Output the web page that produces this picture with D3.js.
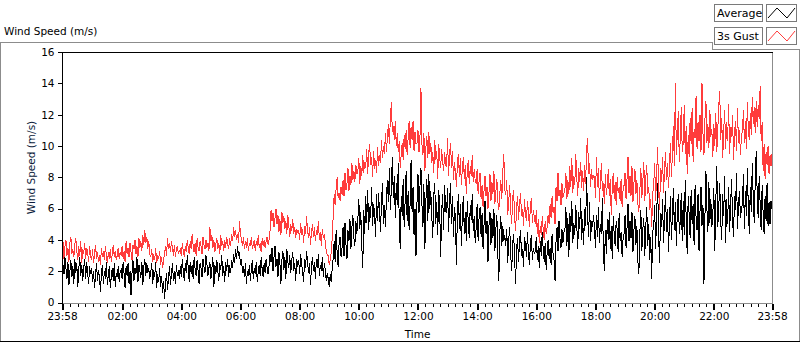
<!DOCTYPE html>
<html>
<head>
<meta charset="utf-8">
<script src="https://cdnjs.cloudflare.com/ajax/libs/d3/7.8.5/d3.min.js"></script>
<style>
  html, body { margin: 0; padding: 0; background: #fff; overflow: hidden; }
  svg text { font-family: "DejaVu Sans", Tahoma, sans-serif; font-size: 10.5px; fill: #000; }
</style>
</head>
<body>
<div id="chart"></div>
<script>
// samples spread evenly over the day, 23:58 -> 23:58 (about one every 2 minutes)
var averageSpeed = [
  1.3, 2.4, 1.8, 2.9, 2.2, 1.5, 2.6, 1.1, 2.0, 2.7, 1.6, 2.3, 1.2, 2.8, 1.9, 2.5, 1.0, 2.1, 2.9, 1.7, 2.4, 1.4, 2.2, 2.8, 1.5, 2.6, 1.9, 1.2, 2.3, 1.8,
  2.2, 1.3, 2.0, 0.9, 1.8, 2.5, 1.4, 2.1, 1.6, 0.7, 1.9, 2.4, 1.2, 2.0, 1.5, 2.6, 1.1, 1.8, 2.3, 0.9, 1.7, 2.2, 1.4, 2.5, 1.0, 1.9, 1.6, 2.3, 1.3, 2.0,
  2.1, 1.5, 2.6, 1.8, 0.9, 2.3, 1.7, 2.5, 1.2, 2.0, 0.5, 1.9, 2.7, 1.4, 2.2, 1.8, 2.9, 1.3, 2.4, 2.0, 1.6, 2.6, 1.1, 2.3, 2.8, 1.7, 2.5, 1.9, 2.2, 1.5,
  1.9, 2.5, 1.2, 2.1, 1.6, 2.6, 0.9, 1.8, 1.3, 2.2, 1.0, 1.7, 0.6, 1.4, 0.2, 1.2, 1.9, 0.8, 1.5, 2.3, 1.1, 1.8, 2.5, 1.4, 2.0, 1.2, 2.4, 1.7, 2.1, 1.5,
  2.3, 1.6, 2.8, 2.0, 1.4, 2.5, 1.9, 3.0, 2.2, 1.3, 2.6, 1.8, 2.4, 1.5, 2.9, 2.1, 1.7, 2.7, 2.0, 1.2, 2.5, 2.2, 1.6, 2.8, 2.3, 1.9, 3.0, 2.4, 1.7, 2.2,
  2.6, 1.5, 2.2, 2.9, 1.0, 2.4, 1.8, 2.7, 2.0, 1.4, 2.5, 2.1, 3.0, 1.7, 2.3, 1.3, 2.6, 2.0, 2.8, 1.6, 2.4, 1.9, 2.7, 2.2, 3.1, 2.5, 3.4, 2.8, 3.6, 3.0,
  3.2, 2.4, 2.8, 1.9, 2.3, 1.6, 2.5, 1.2, 2.0, 1.7, 2.4, 1.4, 2.1, 2.7, 1.5, 2.2, 1.8, 2.6, 1.3, 2.0, 2.4, 1.7, 2.9, 2.1, 1.6, 2.5, 1.9, 2.8, 2.2, 1.8,
  2.4, 3.1, 2.6, 3.5, 2.0, 2.9, 3.6, 2.3, 2.8, 1.6, 3.2, 2.5, 1.2, 2.7, 3.3, 2.1, 2.9, 1.5, 3.4, 2.6, 2.2, 3.0, 1.9, 2.7, 3.2, 2.0, 2.5, 1.4, 2.8, 2.3,
  2.7, 1.8, 3.1, 2.4, 2.0, 1.3, 2.8, 2.2, 3.3, 2.6, 1.9, 2.5, 1.1, 2.3, 2.9, 2.0, 2.6, 1.5, 2.8, 2.2, 3.1, 1.7, 2.4, 2.0, 2.9, 1.6, 2.5, 2.1, 1.4, 1.9,
  1.5, 1.0, 1.8, 1.3, 2.2, 2.8, 3.9, 2.6, 4.6, 3.2, 2.3, 3.8, 4.2, 2.9, 3.5, 4.8, 3.0, 5.1, 3.7, 2.8, 4.6, 3.9, 5.3, 3.4, 4.8, 5.6, 4.1, 3.6, 5.2, 4.4,
  5.3, 6.6, 4.7, 5.8, 3.6, 2.2, 5.9, 4.4, 6.8, 5.1, 7.2, 4.6, 6.1, 5.4, 7.4, 4.9, 6.3, 5.6, 4.2, 6.9, 5.2, 7.0, 5.8, 4.5, 6.5, 7.6, 5.0, 6.2, 4.8, 6.7,
  7.8, 6.4, 8.6, 5.9, 7.3, 9.3, 6.7, 8.1, 5.4, 7.6, 6.2, 8.9, 5.1, 3.4, 6.8, 5.5, 7.9, 4.8, 6.6, 8.4, 5.2, 7.1, 4.6, 6.3, 9.1, 5.8, 7.4, 4.3, 6.0, 3.0,
  6.4, 8.2, 5.7, 7.4, 8.6, 6.3, 4.8, 7.6, 3.4, 6.5, 7.9, 5.2, 8.2, 6.0, 7.1, 5.5, 4.1, 6.9, 7.6, 5.0, 6.4, 4.3, 7.2, 6.1, 2.9, 5.8, 6.9, 4.6, 7.5, 5.9,
  5.7, 7.3, 4.5, 6.4, 7.6, 5.0, 6.8, 4.2, 6.1, 5.4, 2.4, 5.9, 6.9, 4.7, 6.3, 3.6, 5.6, 6.8, 4.4, 5.8, 3.9, 6.5, 5.1, 4.1, 6.2, 5.3, 6.9, 4.6, 5.5, 3.8,
  4.8, 6.3, 3.9, 5.5, 6.1, 4.2, 5.7, 3.4, 5.0, 6.5, 4.4, 5.2, 2.6, 4.9, 5.8, 3.7, 5.4, 4.1, 6.0, 3.3, 4.7, 5.6, 3.0, 1.4, 4.5, 5.5, 3.6, 4.9, 3.9, 4.3,
  3.6, 4.7, 2.5, 4.0, 4.8, 3.1, 2.0, 3.7, 4.4, 2.8, 1.2, 3.5, 4.1, 2.6, 3.9, 4.6, 3.0, 3.4, 2.3, 4.2, 3.7, 2.9, 4.5, 3.2, 2.4, 3.8, 4.3, 2.7, 3.5, 3.1,
  3.3, 4.2, 2.7, 3.6, 2.2, 3.9, 3.0, 4.5, 3.4, 2.6, 3.8, 2.1, 3.2, 4.0, 2.8, 3.5, 2.4, 4.4, 3.1, 2.7, 1.4, 3.9, 4.8, 3.3, 5.2, 4.1, 3.5, 4.7, 3.8, 4.5,
  4.6, 6.1, 3.6, 5.4, 2.9, 5.7, 4.5, 6.5, 3.8, 5.1, 4.3, 6.2, 5.0, 3.4, 5.8, 4.7, 6.7, 4.0, 5.3, 3.7, 6.0, 4.9, 8.0, 5.5, 4.2, 6.4, 3.9, 5.2, 4.8, 5.6,
  4.7, 3.5, 5.6, 4.2, 6.1, 3.8, 5.0, 4.4, 6.7, 3.3, 2.0, 4.6, 3.1, 5.3, 4.0, 5.8, 3.4, 4.9, 2.8, 5.5, 4.3, 3.6, 5.2, 4.7, 3.2, 5.7, 3.9, 4.5, 2.9, 4.1,
  4.4, 5.6, 3.5, 4.8, 6.3, 3.9, 5.2, 4.1, 5.8, 3.2, 4.6, 5.5, 3.7, 4.9, 2.6, 1.8, 4.5, 5.9, 3.3, 4.7, 5.4, 3.0, 4.8, 6.1, 3.6, 5.0, 2.7, 4.2, 1.5, 4.6,
  4.7, 6.2, 3.4, 5.5, 7.6, 4.3, 2.5, 5.7, 4.8, 6.6, 3.8, 5.3, 7.1, 4.5, 6.0, 3.2, 5.1, 6.8, 4.0, 5.6, 7.3, 4.6, 6.4, 3.6, 5.9, 6.9, 4.4, 5.2, 7.0, 3.9,
  6.5, 4.3, 7.8, 5.3, 3.1, 6.8, 5.6, 4.1, 7.2, 5.0, 6.3, 3.7, 7.5, 5.4, 4.6, 6.9, 3.3, 5.8, 7.4, 4.9, 6.2, 1.2, 5.5, 8.4, 6.0, 4.5, 7.7, 5.1, 6.6, 4.8,
  5.7, 7.3, 3.3, 6.4, 8.7, 4.8, 6.1, 7.6, 5.2, 4.0, 6.9, 5.5, 8.1, 3.8, 6.6, 5.0, 7.4, 4.5, 6.2, 7.9, 5.3, 4.2, 6.8, 5.9, 8.3, 4.7, 6.3, 7.1, 5.4, 6.0,
  6.3, 8.2, 4.7, 7.1, 5.5, 8.6, 6.0, 4.4, 7.4, 5.8, 8.9, 6.6, 5.1, 7.8, 9.7, 6.9, 5.4, 8.1, 6.3, 4.6, 7.5, 5.7, 4.4, 6.8, 5.2, 7.6, 4.9, 6.4, 5.0, 6.5, 6.0
];

var gustSpeed = [
  3.2, 3.9, 2.8, 3.6, 4.0, 3.0, 3.5, 2.6, 3.8, 4.2, 3.1, 3.4, 2.9, 3.7, 4.1, 3.3, 2.7, 3.6, 3.0, 3.9, 2.5, 3.4, 3.1, 3.8, 2.8, 3.5, 3.2, 2.6, 3.6, 3.0,
  2.7, 3.4, 2.5, 3.1, 3.7, 2.8, 3.2, 2.6, 3.0, 2.4, 3.5, 2.9, 3.3, 2.7, 3.6, 3.0, 2.5, 3.2, 2.8, 3.4, 2.6, 3.1, 3.7, 2.9, 3.3, 2.7, 3.0, 3.5, 2.8, 3.2,
  3.0, 3.6, 2.8, 3.3, 2.6, 3.9, 3.1, 3.5, 2.9, 3.8, 3.2, 2.7, 3.7, 3.4, 4.0, 3.1, 3.6, 2.9, 4.1, 3.5, 3.9, 3.3, 4.3, 3.7, 4.6, 3.8, 4.2, 3.4, 3.9, 3.1,
  2.9, 3.4, 2.6, 3.1, 2.7, 3.5, 2.5, 3.0, 2.8, 3.3, 2.4, 2.9, 2.2, 2.7, 3.1, 3.6, 3.0, 4.1, 3.4, 3.8, 3.2, 3.9, 3.5, 3.0, 3.7, 2.9, 3.4, 3.6, 3.1, 3.3,
  3.4, 3.0, 3.8, 3.3, 2.9, 3.6, 3.2, 4.0, 3.5, 3.1, 3.9, 3.4, 4.4, 3.6, 3.2, 3.8, 3.0, 4.1, 3.5, 3.3, 3.9, 3.6, 3.1, 4.2, 3.7, 3.4, 4.0, 3.5, 3.8, 3.3,
  4.8, 3.9, 4.3, 3.5, 4.0, 3.2, 3.7, 4.1, 3.4, 3.8, 3.1, 4.3, 3.6, 3.9, 3.3, 4.0, 3.5, 4.2, 3.7, 3.4, 4.1, 3.6, 4.4, 3.9, 4.8, 4.2, 4.6, 4.0, 4.4, 3.8,
  5.2, 4.4, 4.0, 3.6, 4.2, 3.4, 3.9, 3.5, 4.1, 3.3, 3.8, 3.6, 4.2, 3.4, 3.7, 4.0, 3.3, 3.9, 3.6, 4.3, 3.5, 3.8, 3.2, 4.1, 3.6, 4.0, 3.5, 3.9, 4.2, 3.7,
  4.0, 4.6, 5.9, 5.2, 5.7, 4.8, 5.4, 6.0, 5.0, 5.6, 4.5, 5.3, 4.3, 5.8, 5.1, 5.5, 4.7, 5.2, 4.4, 5.6, 4.9, 4.2, 5.0, 4.6, 5.3, 4.4, 4.8, 4.1, 4.7, 4.5,
  4.6, 4.0, 5.1, 4.3, 4.7, 3.8, 4.9, 4.4, 5.5, 4.6, 4.1, 4.8, 3.7, 4.5, 5.0, 4.2, 4.8, 3.9, 4.6, 4.3, 5.2, 4.0, 4.5, 3.6, 4.7, 4.1, 4.4, 3.8, 3.3, 3.0,
  3.0, 2.4, 2.7, 3.2, 4.1, 5.5, 6.9, 6.2, 7.3, 8.0, 6.7, 7.0, 6.5, 7.4, 6.9, 7.8, 6.8, 8.3, 7.2, 7.6, 8.6, 7.1, 8.1, 7.5, 8.9, 7.8, 8.4, 7.7, 8.8, 8.2,
  8.4, 9.2, 7.6, 8.7, 8.1, 9.4, 8.3, 9.0, 8.6, 9.8, 8.2, 9.5, 10.1, 8.8, 9.3, 8.0, 9.7, 8.5, 9.1, 8.3, 9.9, 8.7, 9.4, 8.9, 10.4, 9.2, 10.0, 9.5, 10.8, 9.6,
  10.6, 11.4, 10.1, 11.8, 12.8, 10.9, 11.3, 10.4, 11.6, 10.0, 10.8, 9.6, 10.3, 8.6, 9.5, 10.2, 9.1, 10.7, 9.8, 11.0, 9.4, 10.5, 11.6, 9.9, 11.2, 10.4, 11.6, 9.7, 10.9, 10.1,
  10.2, 11.0, 9.6, 10.5, 13.7, 10.1, 9.4, 10.8, 8.4, 9.9, 10.6, 9.2, 10.9, 9.5, 10.2, 8.9, 9.6, 8.3, 10.4, 9.1, 9.7, 7.9, 10.1, 9.3, 8.6, 9.8, 9.0, 8.4, 9.6, 8.8,
  8.7, 10.5, 8.1, 9.4, 10.2, 8.6, 9.7, 7.8, 9.0, 8.3, 7.4, 8.9, 9.5, 8.0, 9.2, 7.5, 8.6, 9.3, 7.9, 8.8, 6.9, 8.4, 9.1, 7.6, 8.7, 8.1, 9.4, 7.7, 8.5, 7.8,
  7.6, 8.5, 6.9, 7.8, 8.3, 6.6, 7.5, 6.1, 7.2, 8.1, 6.8, 7.4, 6.0, 7.0, 8.2, 6.5, 7.7, 6.9, 8.4, 6.3, 7.1, 7.9, 6.4, 5.9, 7.0, 7.8, 6.6, 8.3, 9.5, 7.2,
  6.9, 7.8, 5.6, 6.4, 7.5, 5.9, 5.0, 6.7, 7.2, 5.4, 4.6, 6.1, 6.8, 5.3, 6.3, 7.0, 5.5, 6.0, 4.9, 6.6, 5.7, 5.2, 6.5, 5.8, 4.8, 6.2, 6.7, 5.1, 5.9, 5.4,
  5.0, 5.9, 4.4, 5.3, 3.8, 4.9, 4.3, 5.5, 4.6, 4.0, 5.2, 4.4, 4.8, 5.6, 5.0, 6.3, 5.4, 6.8, 5.7, 6.1, 5.0, 7.4, 6.5, 8.3, 6.8, 7.2, 6.2, 7.6, 6.7, 7.0,
  7.2, 8.3, 6.6, 7.8, 6.9, 8.7, 7.4, 9.2, 7.0, 8.1, 7.5, 9.5, 8.0, 6.8, 8.6, 7.7, 9.0, 7.3, 8.4, 7.1, 8.8, 7.6, 9.8, 10.5, 8.2, 8.9, 7.4, 8.5, 7.8, 8.1,
  8.0, 6.7, 9.3, 7.4, 8.6, 6.4, 7.8, 8.9, 7.1, 7.6, 6.3, 8.2, 6.9, 7.5, 8.5, 6.8, 7.9, 5.6, 7.3, 8.3, 6.6, 7.7, 6.2, 8.0, 7.0, 7.4, 6.5, 7.9, 6.1, 7.2,
  7.5, 8.3, 6.6, 7.9, 9.3, 7.0, 8.1, 6.8, 8.7, 6.4, 7.6, 8.5, 6.9, 7.8, 6.3, 5.8, 7.2, 8.6, 6.7, 7.7, 9.0, 6.5, 7.9, 8.8, 6.9, 7.4, 5.9, 6.6, 4.8, 7.0,
  7.4, 8.9, 6.5, 8.2, 9.9, 7.2, 5.9, 8.6, 7.7, 9.3, 7.0, 8.4, 9.6, 7.8, 8.9, 7.3, 8.6, 10.2, 8.0, 9.5, 11.3, 8.7, 14.0, 9.4, 10.8, 12.2, 9.0, 10.5, 12.5, 9.6,
  10.2, 12.6, 9.5, 11.3, 8.2, 10.7, 9.3, 11.8, 10.1, 12.4, 9.0, 11.1, 10.5, 13.2, 9.8, 11.5, 10.3, 12.0, 9.6, 14.0, 10.8, 9.4, 11.7, 12.9, 10.2, 11.4, 9.9, 12.3, 10.6, 11.1,
  9.3, 11.4, 10.0, 12.1, 9.6, 11.0, 12.6, 13.5, 10.4, 11.8, 9.2, 10.9, 12.3, 9.8, 11.5, 10.3, 12.7, 9.5, 11.2, 10.6, 12.0, 9.1, 10.8, 11.6, 9.7, 12.4, 10.2, 11.0, 9.4, 10.7,
  10.9, 12.3, 10.2, 11.6, 9.8, 12.8, 11.0, 10.4, 12.1, 10.7, 13.1, 11.4, 12.5, 10.8, 12.9, 11.2, 12.6, 11.7, 13.8, 10.3, 11.5, 8.4, 10.1, 7.9, 9.6, 8.8, 10.0, 8.2, 9.4, 8.7, 9.5
];

var yTicks = [0, 2, 4, 6, 8, 10, 12, 14, 16];
var xTickMinutes = [0, 122, 242, 362, 482, 602, 722, 842, 962, 1082, 1202, 1322, 1440];
var xTickLabels = ["23:58", "02:00", "04:00", "06:00", "08:00", "10:00", "12:00",
                   "14:00", "16:00", "18:00", "20:00", "22:00", "23:58"];
var seriesNames = ["Average", "3s Gust"];
var seriesColors = ["#000000", "#ff3c3c"];

function WindChart (params) {
  var attrs = {
    container: '#chart',
    width: 800,
    height: 342,
    plot: { left: 62, top: 52, right: 772, bottom: 303 },
    frameColor: '#8c8c8c',
    spanMinutes: 1440
  };
  attrs = Object.assign(attrs, params);

  function main () {
    var p = attrs.plot;
    var svg = d3.select(attrs.container).append('svg')
      .attr('width', attrs.width)
      .attr('height', attrs.height);

    var x = d3.scaleLinear().domain([0, attrs.spanMinutes]).range([p.left, p.right]);
    var y = d3.scaleLinear().domain([0, 16]).range([p.bottom - 0.5, p.top]);

    // outer panel frame
    var frame = svg.append('g').attr('class', 'frame')
      .attr('fill', 'none').attr('shape-rendering', 'crispEdges');
    frame.append('path')
      .attr('d', 'M0.5,342 V42.5 H712.5 V49.5 H799.5 V342')
      .attr('stroke', attrs.frameColor);
    frame.append('line')
      .attr('x1', 0).attr('x2', 800).attr('y1', 341.5).attr('y2', 341.5)
      .attr('stroke', '#000');

    svg.append('text')
      .attr('x', 4).attr('y', 35)
      .text('Wind Speed (m/s)');

    svg.append('rect')
      .attr('x', p.left).attr('y', p.top)
      .attr('width', p.right - p.left).attr('height', p.bottom - p.top)
      .attr('fill', '#fff');

    svg.append('clipPath').attr('id', 'plotclip')
      .append('rect')
      .attr('x', p.left + 1).attr('y', p.top + 1)
      .attr('width', p.right - p.left - 1).attr('height', p.bottom - p.top - 1);

    function lineFor (series) {
      var step = attrs.spanMinutes / (series.length - 1);
      return d3.line()
        .x(function (d, i) { return x(i * step); })
        .y(function (d) { return y(d); })(series);
    }

    // gust first so the average sits on top
    var plot = svg.append('g').attr('clip-path', 'url(#plotclip)');
    [[gustSpeed, seriesColors[1]], [averageSpeed, seriesColors[0]]].forEach(function (s) {
      plot.append('path')
        .attr('fill', 'none')
        .attr('stroke', s[1])
        .attr('stroke-width', 1)
        .attr('shape-rendering', 'crispEdges')
        .attr('d', lineFor(s[0]));
    });

    var border = svg.append('g').attr('shape-rendering', 'crispEdges');
    border.append('path')
      .attr('d', 'M' + (p.right + 0.5) + ',' + (p.top + 0.5) + ' V' + (p.bottom + 0.5) + ' H' + p.left)
      .attr('fill', 'none').attr('stroke', attrs.frameColor);
    border.append('path')
      .attr('d', 'M' + (p.left + 0.5) + ',' + (p.bottom + 0.5) + ' V' + (p.top + 0.5) + ' H' + (p.right + 1))
      .attr('fill', 'none').attr('stroke', '#000');

    // y axis
    var yAxis = svg.append('g').attr('transform', 'translate(' + (p.left + 0.5) + ',0)')
      .call(d3.axisLeft(y).tickValues(yTicks).tickSize(5).tickPadding(3));
    yAxis.select('.domain').remove();
    yAxis.selectAll('text').style('font-size', '10.5px').style('font-family', '"DejaVu Sans", Tahoma, sans-serif');

    // x axis: minor ticks every 15 min from 00:00, then labelled major ticks
    var xMinor = svg.append('g').attr('transform', 'translate(0,' + (p.bottom + 0.5) + ')')
      .call(d3.axisBottom(x).tickValues(d3.range(2, attrs.spanMinutes, 15)).tickSize(3).tickFormat(''));
    xMinor.select('.domain').remove();
    var xMajor = svg.append('g').attr('transform', 'translate(0,' + (p.bottom + 0.5) + ')')
      .call(d3.axisBottom(x).tickValues(xTickMinutes).tickSize(6).tickPadding(3)
        .tickFormat(function (d, i) { return xTickLabels[i]; }));
    xMajor.select('.domain').remove();
    xMajor.selectAll('line').attr('stroke-width', 2);
    svg.selectAll('.tick line').attr('shape-rendering', 'crispEdges');
    xMajor.selectAll('text').style('font-size', '10.5px').style('font-family', '"DejaVu Sans", Tahoma, sans-serif');

    svg.append('text')
      .attr('x', (p.left + p.right) / 2 + 0.5).attr('y', 338)
      .attr('text-anchor', 'middle')
      .text('Time');

    svg.append('text')
      .attr('transform', 'translate(35,' + ((p.top + p.bottom) / 2 - 10) + ') rotate(-90)')
      .attr('text-anchor', 'middle')
      .style('fill', '#0b1a3a')
      .text('Wind Speed (m/s)');

    // legend
    var legend = svg.append('g').attr('class', 'legend').attr('shape-rendering', 'crispEdges');
    seriesNames.forEach(function (name, i) {
      var top = 4 + i * 23;
      legend.append('rect')
        .attr('x', 714.5).attr('y', top + 0.5).attr('width', 48).attr('height', 17)
        .attr('fill', '#fff').attr('stroke', '#7a7a7a');
      legend.append('text')
        .attr('x', 717).attr('y', top + 13)
        .style('font-size', '11px')
        .text(name);
      legend.append('rect')
        .attr('x', 766.5).attr('y', top + 0.5).attr('width', 30).attr('height', 17)
        .attr('fill', '#fff').attr('stroke', '#7a7a7a');
      legend.append('path')
        .attr('d', 'M768,' + (top + 14) + ' L777,' + (top + 4) + ' L787,' + (top + 14) + ' L795,' + (top + 4))
        .attr('fill', 'none')
        .attr('stroke', seriesColors[i])
        .attr('shape-rendering', 'auto');
    });
  }

  main.render = function () { main(); return main; };
  return main;
}

WindChart({ container: '#chart' }).render();
</script>
</body>
</html>
